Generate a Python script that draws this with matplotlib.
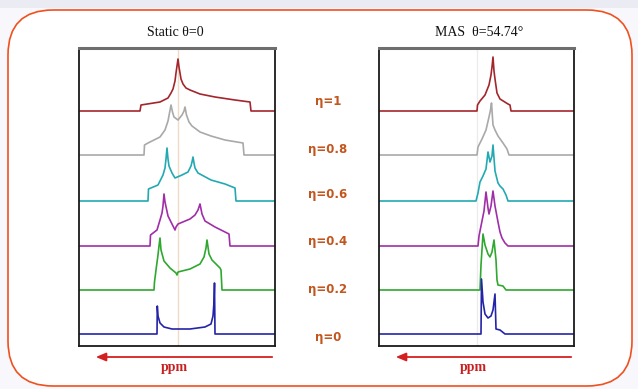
import matplotlib
matplotlib.use("Agg")
import matplotlib.pyplot as plt
from matplotlib.patches import FancyBboxPatch, Rectangle
from matplotlib.transforms import IdentityTransform

W, H = 638, 389
OUTPUT = "out.png"

ETA_LABELS = ["η=1", "η=0.8", "η=0.6", "η=0.4", "η=0.2", "η=0"]
COLORS = ["#a3262c", "#a9a9a9", "#22a9b2", "#a02ea8", "#2fa82f", "#2424a8"]
OFFSETS = [235, 191, 145, 100, 56, 12]

# static spectra: (frequency, intensity), panel width 196
static_x = [
    [0, 61, 62, 81, 89, 92, 94, 96, 97, 98, 99, 100, 101, 102, 104, 107, 111, 121, 136, 156, 171, 172, 196],
    [0, 65, 65.5, 69, 81, 86, 89, 90.5, 92, 93.5, 95, 99, 103, 105, 106, 107.5, 110, 113, 121, 132, 146, 164, 165, 196],
    [0, 69, 69.5, 79, 84, 86, 87, 88, 89, 90, 93, 96, 103, 109, 112, 113, 114, 115, 116, 119, 132, 146, 156, 157, 196],
    [0, 71, 71.5, 78, 81, 83, 84, 85, 86, 89, 93, 96, 97, 99, 111, 116, 119, 120, 121, 122, 123, 126, 136, 150, 151, 196],
    [0, 75, 75.5, 77, 79, 80, 81, 82, 85, 91, 97, 98, 99, 111, 121, 125, 127, 128, 129, 130, 133, 141, 142, 143, 196],
    [0, 78, 78.3, 79, 81, 85, 93, 111, 126, 132, 134, 135, 135.5, 136, 196],
]
static_y = [
    [0, 0, 6, 9, 13, 18, 22, 30, 38, 45, 52, 44, 38, 32, 27, 23, 21, 17, 14, 11, 9, 0, 0],
    [0, 0, 10, 12, 18, 25, 34, 42, 50, 43, 38, 35, 40, 44, 48, 40, 33, 29, 23, 19, 15, 12, 0, 0],
    [0, 0, 12, 16, 26, 33, 42, 53, 42, 35, 28, 23, 26, 29, 35, 39, 44, 38, 33, 28, 21, 17, 13, 0, 0],
    [0, 0, 11, 16, 26, 33, 40, 52, 44, 30, 22, 16, 19, 22, 27, 31, 36, 39, 42, 37, 32, 25, 19, 12, 0, 0],
    [0, 0, 8, 20, 35, 44, 52, 40, 29, 22, 17, 15, 18, 21, 26, 33, 42, 50, 43, 36, 30, 22, 20, 0, 0],
    [0, 0, 28, 18, 11, 7, 5, 5, 7, 10, 18, 32, 51, 0, 0],
]

# MAS spectra
mas_x = [
    [0, 98, 98.5, 101, 106, 110, 112, 113, 114, 115, 116, 118, 121, 129, 131, 132, 195],
    [0, 98, 99, 103, 107, 110, 111.5, 112.5, 114, 116, 119, 124, 128, 130, 195],
    [0, 97, 99, 101, 104, 107, 109, 111, 113, 114, 116, 119, 121, 124, 127, 129, 195],
    [0, 99, 100, 103, 105, 107, 109, 110, 112, 114, 116, 119, 121, 123, 126, 129, 195],
    [0, 101, 102, 104, 106, 109, 111, 113, 115, 117, 118, 119, 124, 127, 195],
    [0, 102, 102.5, 104, 106, 109, 112, 114, 116, 117, 121, 126, 195],
]
mas_y = [
    [0, 0, 6, 10, 16, 26, 36, 44, 54, 40, 32, 18, 12, 7, 6, 0, 0],
    [0, 0, 8, 16, 25, 38, 45, 52, 30, 25, 19, 12, 6, 0, 0],
    [0, 0, 8, 19, 25, 32, 49, 39, 45, 56, 30, 18, 15, 12, 6, 0, 0],
    [0, 0, 10, 25, 35, 54, 38, 32, 40, 55, 40, 24, 14, 8, 3, 0, 0],
    [0, 0, 25, 56, 45, 36, 33, 38, 50, 30, 10, 5, 4, 0, 0],
    [0, 0, 55, 32, 20, 16, 18, 24, 40, 5, 4, 0, 0],
]

fig = plt.figure(figsize=(W / 100, H / 100), dpi=100, facecolor="#f8f8fc")

# background frame
fig.add_artist(Rectangle((0, H - 8), W, 8, transform=IdentityTransform(),
                         facecolor="#ebebf4", edgecolor="none", zorder=0))
fig.add_artist(FancyBboxPatch((8, 3), 624, 376, boxstyle="round,pad=0,rounding_size=45",
                              transform=IdentityTransform(), facecolor="white",
                              edgecolor="#f0501e", linewidth=1.2, zorder=0))


def fx(px):
    return px / W


def fy(py):
    return 1 - py / H


def panel(left, width, xs, ys, title, title_x, guide_x, guide_color):
    ax = fig.add_axes([fx(left), fy(346), width / W, 298 / H])
    ax.set_facecolor("white")
    ax.axvline(guide_x, color=guide_color, linewidth=1, zorder=1)
    for x, y, off, c in zip(xs, ys, OFFSETS, COLORS):
        ax.plot(x, [v + off for v in y], color=c, linewidth=1.2, zorder=2)
    ax.set_xlim(0, width)
    ax.set_ylim(0, 298)
    ax.set_xticks([])
    ax.set_yticks([])
    for side in ["left", "bottom", "right"]:
        ax.spines[side].set_color("#1a1a1a")
        ax.spines[side].set_linewidth(1.3)
    ax.spines["top"].set_color("#6e6e6e")
    ax.spines["top"].set_linewidth(2.2)
    fig.text(fx(title_x), fy(33), title, ha="center", va="center",
             family="Liberation Serif", fontsize=10, color="#111111")
    # ppm arrow
    fig.add_artist(plt.matplotlib.patches.FancyArrowPatch(
        (fx(left + width), fy(357)), (fx(left + 14), fy(357)),
        transform=fig.transFigure, arrowstyle="-|>,head_length=6,head_width=2.5",
        color="#d42020", linewidth=1.3, mutation_scale=1))
    fig.text(fx(left + width / 2 - 3), fy(368), "ppm", ha="center", va="center",
             family="Liberation Serif", fontweight="bold", fontsize=10, color="#c82020")
    return ax


panel(79, 196, static_x, static_y, "Static θ=0", 175, 99, "#efdcc6")
panel(379, 195, mas_x, mas_y, "MAS  θ=54.74°", 479, 98, "#ececec")

label_y = [102, 149, 194, 241, 289, 337]
for lab, py in zip(ETA_LABELS, label_y):
    fig.text(fx(328), fy(py), lab, ha="center", va="center", family="DejaVu Sans",
             fontweight="bold", fontsize=8.5, color="#c2561e")

plt.savefig(OUTPUT, dpi=100, facecolor=fig.get_facecolor())
print(f"Saved {OUTPUT}")
